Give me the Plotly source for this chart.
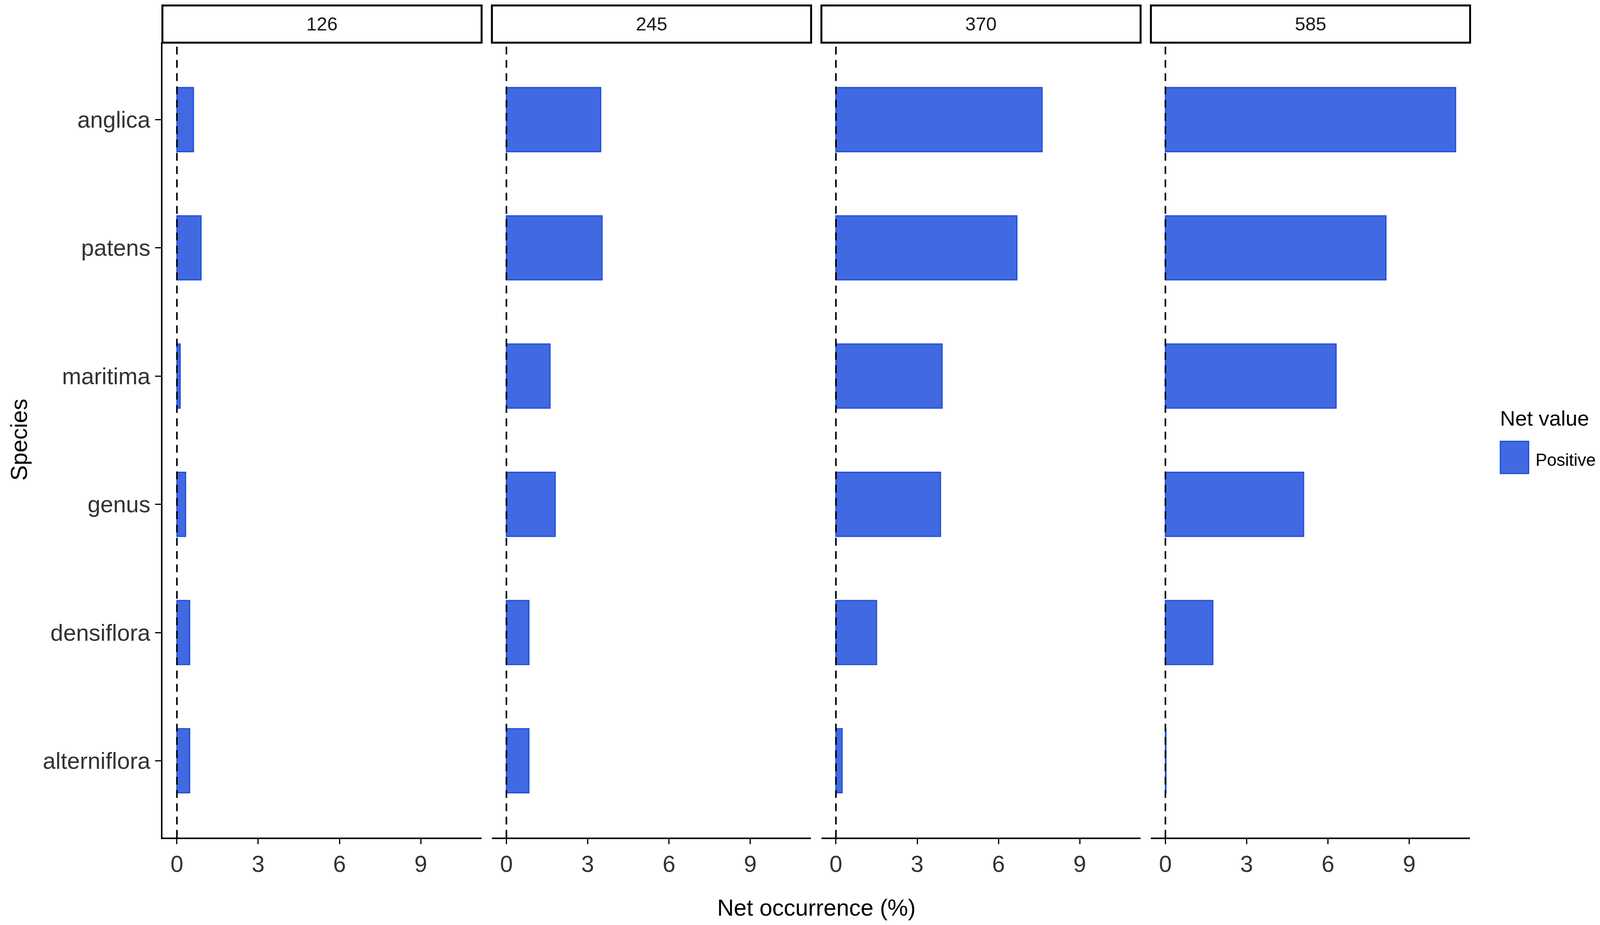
import plotly.graph_objects as go
from plotly.subplots import make_subplots

# data
species = ["anglica", "patens", "maritima", "genus", "densiflora", "alterniflora"]
panels = ["126", "245", "370", "585"]
net_126 = [0.61, 0.89, 0.12, 0.32, 0.47, 0.47]
net_245 = [3.48, 3.53, 1.61, 1.80, 0.83, 0.83]
net_370 = [7.61, 6.68, 3.92, 3.86, 1.50, 0.23]
net_585 = [10.71, 8.14, 6.30, 5.10, 1.75, 0.02]
x_ticks = [0, 3, 6, 9]
legend_title = "Net value"
legend_label = "Positive"

values = [net_126, net_245, net_370, net_585]

# reference is 4953 x 2369; everything is placed as a fraction of that
W, H = 4953, 2369
FONT = "Liberation Sans, Arial, sans-serif"
FILL = "#4169E1"
EDGE = "#1f4fd8"

left0, pw, gap = 495, 992, 32
py0 = 1 - 2152 / H     # bottom of panels
py1 = 1 - 102 / H      # top of panels / bottom of strips
sy1 = 1 - 6 / H        # top of strips

fig = make_subplots(rows=1, cols=4, shared_yaxes=True)

xmax = max(max(v) for v in values)
xrange = [-0.05 * xmax, xmax * 1.05]

for i, vals in enumerate(values):
    fig.add_trace(
        go.Bar(
            x=vals,
            y=species,
            orientation="h",
            width=0.5,
            marker=dict(color=FILL, line=dict(color=EDGE, width=3)),
            name=legend_label,
            showlegend=False,
        ),
        row=1, col=i + 1,
    )

shapes = []
annotations = []
for i, name in enumerate(panels):
    x0 = (left0 + i * (pw + gap)) / W
    x1 = (left0 + i * (pw + gap) + pw) / W
    ax = "xaxis" if i == 0 else f"xaxis{i + 1}"
    ay = "yaxis" if i == 0 else f"yaxis{i + 1}"
    fig.layout[ax].update(
        domain=[x0, x1],
        range=xrange,
        tickvals=x_ticks,
        ticks="outside",
        ticklen=13,
        tickwidth=3,
        tickcolor="black",
        showline=True,
        linewidth=4,
        linecolor="black",
        showgrid=False,
        zeroline=False,
        tickfont=dict(size=59, color="#333333", family=FONT),
    )
    fig.layout[ay].update(
        domain=[py0, py1],
        type="category",
        categoryorder="array",
        categoryarray=species[::-1],
        range=[-0.6, len(species) - 0.4],
        showgrid=False,
        zeroline=False,
    )
    if i == 0:
        fig.layout[ay].update(
            showline=True, linewidth=4, linecolor="black",
            ticks="outside", ticklen=15, tickwidth=3, tickcolor="black",
            tickfont=dict(size=59, color="#333333", family=FONT),
        )
    else:
        fig.layout[ay].update(showline=False, ticks="", showticklabels=False)

    xr = "x" if i == 0 else f"x{i + 1}"
    yr = "y" if i == 0 else f"y{i + 1}"
    # dashed reference line at zero
    shapes.append(dict(
        type="line", xref=xr, yref=f"{yr} domain",
        x0=0, x1=0, y0=0, y1=1,
        line=dict(color="black", width=4, dash="20px,14px"),
    ))
    # facet strip box + label
    shapes.append(dict(
        type="rect", xref="paper", yref="paper",
        x0=x0, x1=x1, y0=py1, y1=sy1,
        line=dict(color="black", width=5), fillcolor="white",
    ))
    annotations.append(dict(
        text=name, xref="paper", yref="paper",
        x=(x0 + x1) / 2, y=(py1 + sy1) / 2,
        xanchor="center", yanchor="middle", showarrow=False,
        font=dict(size=48, color="#1a1a1a", family=FONT),
    ))

# axis titles
annotations.append(dict(
    text="Net occurrence (%)", xref="paper", yref="paper",
    x=(2 * left0 + 3 * (pw + gap) + pw) / 2 / W, y=1 - 2333 / H,
    xanchor="center", yanchor="middle", showarrow=False,
    font=dict(size=59, color="black", family=FONT),
))
annotations.append(dict(
    text="Species", xref="paper", yref="paper",
    x=8 / W, y=1 - 1126 / H, textangle=-90,
    xanchor="left", yanchor="middle", showarrow=False,
    font=dict(size=59, color="black", family=FONT),
))

# legend drawn by hand so the key matches the reference size
annotations.append(dict(
    text=legend_title, xref="paper", yref="paper",
    x=4650 / W, y=1 - 1070 / H,
    xanchor="left", yanchor="middle", showarrow=False,
    font=dict(size=54, color="black", family=FONT),
))
shapes.append(dict(
    type="rect", xref="paper", yref="paper",
    x0=4653 / W, x1=4741 / W, y0=1 - 1213 / H, y1=1 - 1130 / H,
    line=dict(color=EDGE, width=3), fillcolor=FILL,
))
annotations.append(dict(
    text=legend_label, xref="paper", yref="paper",
    x=4760 / W, y=1 - 1177 / H,
    xanchor="left", yanchor="middle", showarrow=False,
    font=dict(size=44, color="black", family=FONT),
))

fig.update_layout(
    autosize=True,
    margin=dict(l=0, r=0, t=0, b=0),
    paper_bgcolor="white",
    plot_bgcolor="white",
    showlegend=False,
    shapes=shapes,
    annotations=annotations,
    font=dict(family=FONT),
)

fig.write_html("out.html")
